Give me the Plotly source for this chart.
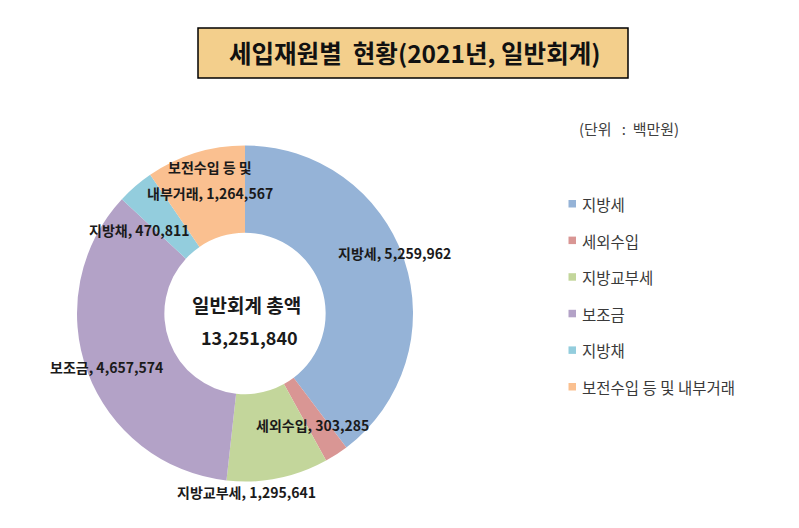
import plotly.graph_objects as go

categories = ["지방세", "세외수입", "지방교부세", "보조금", "지방채", "보전수입 등 및 내부거래"]
values = [5259962, 303285, 1295641, 4657574, 470811, 1264567]
colors = ["#95B3D7", "#D99694", "#C3D69B", "#B3A2C7", "#93CDDD", "#FAC090"]
slice_labels = ["지방세", "세외수입", "지방교부세", "보조금", "지방채", "보전수입 등 및\n내부거래"]
total_label = "일반회계 총액"
title_text = "세입재원별  현황(2021년, 일반회계)"
unit_text = "(단위   :  백만원)"

W, H = 799, 528
OFF = 8  # page body margin
FONT = "Noto Sans CJK KR"

def px(x):
    return (x - OFF) / W

def py(y):
    return 1 - (y - OFF) / H

fig = go.Figure()
fig.add_trace(go.Pie(
    labels=categories,
    values=values,
    marker=dict(colors=colors, line=dict(width=0)),
    hole=0.48,
    sort=False,
    direction="clockwise",
    rotation=0,
    textinfo="none",
    showlegend=False,
    domain=dict(x=[px(77), px(413)], y=[py(483), py(144)]),
))

# slice labels (layout placements)
label_pos = [(394, 253), (312, 425), (247, 492), (106, 367), (139, 230), (210, 180)]
annotations = []
for lab, v, (x, y) in zip(slice_labels, values, label_pos):
    lines = f"{lab}, {v:,}".split("\n")
    n = len(lines)
    for k, line in enumerate(lines):
        yy = y + (k - (n - 1) / 2) * 26
        annotations.append(dict(
            x=px(x), y=py(yy), xref="paper", yref="paper",
            text=f"<b>{line}</b>", showarrow=False,
            font=dict(family=FONT, size=14, color="#1a1a1a"),
            xanchor="center", yanchor="middle", align="center",
        ))

total = sum(values)
annotations.append(dict(
    x=px(247), y=py(304), xref="paper", yref="paper",
    text=f"<b>{total_label}</b>", showarrow=False,
    font=dict(family=FONT, size=19, color="#1a1a1a"),
    xanchor="center", yanchor="middle",
))
annotations.append(dict(
    x=px(249), y=py(337), xref="paper", yref="paper",
    text=f"<b>{total:,}</b>", showarrow=False,
    font=dict(family=FONT, size=18, color="#1a1a1a"),
    xanchor="center", yanchor="middle",
))

# title
annotations.append(dict(
    x=px(414), y=py(53), xref="paper", yref="paper",
    text=f"<b>{title_text}</b>", showarrow=False,
    font=dict(family=FONT, size=24.5, color="#111111"),
    xanchor="center", yanchor="middle",
))

# unit
annotations.append(dict(
    x=px(577), y=py(128), xref="paper", yref="paper",
    text=unit_text, showarrow=False,
    font=dict(family=FONT, size=15, color="#404040"),
    xanchor="left", yanchor="middle",
))

shapes = [dict(
    type="rect", xref="paper", yref="paper",
    x0=px(198), x1=px(628), y0=py(78), y1=py(28),
    fillcolor="#F3CF8C", line=dict(color="#000000", width=1.5),
)]

# manual legend
leg_y0, leg_step = 204, 36.6
for i, (c, cat) in enumerate(zip(colors, categories)):
    y = leg_y0 + i * leg_step
    shapes.append(dict(
        type="rect", xref="paper", yref="paper",
        x0=px(568.5), x1=px(576), y0=py(y + 3.5), y1=py(y - 4),
        fillcolor=c, line=dict(width=0),
    ))
    annotations.append(dict(
        x=px(580), y=py(y), xref="paper", yref="paper",
        text=cat, showarrow=False,
        font=dict(family=FONT, size=15.5, color="#3a3a3a"),
        xanchor="left", yanchor="middle",
    ))

fig.update_layout(
    width=W, height=H,
    margin=dict(l=0, r=0, t=0, b=0),
    paper_bgcolor="white",
    plot_bgcolor="white",
    annotations=annotations,
    shapes=shapes,
)

fig.write_html("out.html")
